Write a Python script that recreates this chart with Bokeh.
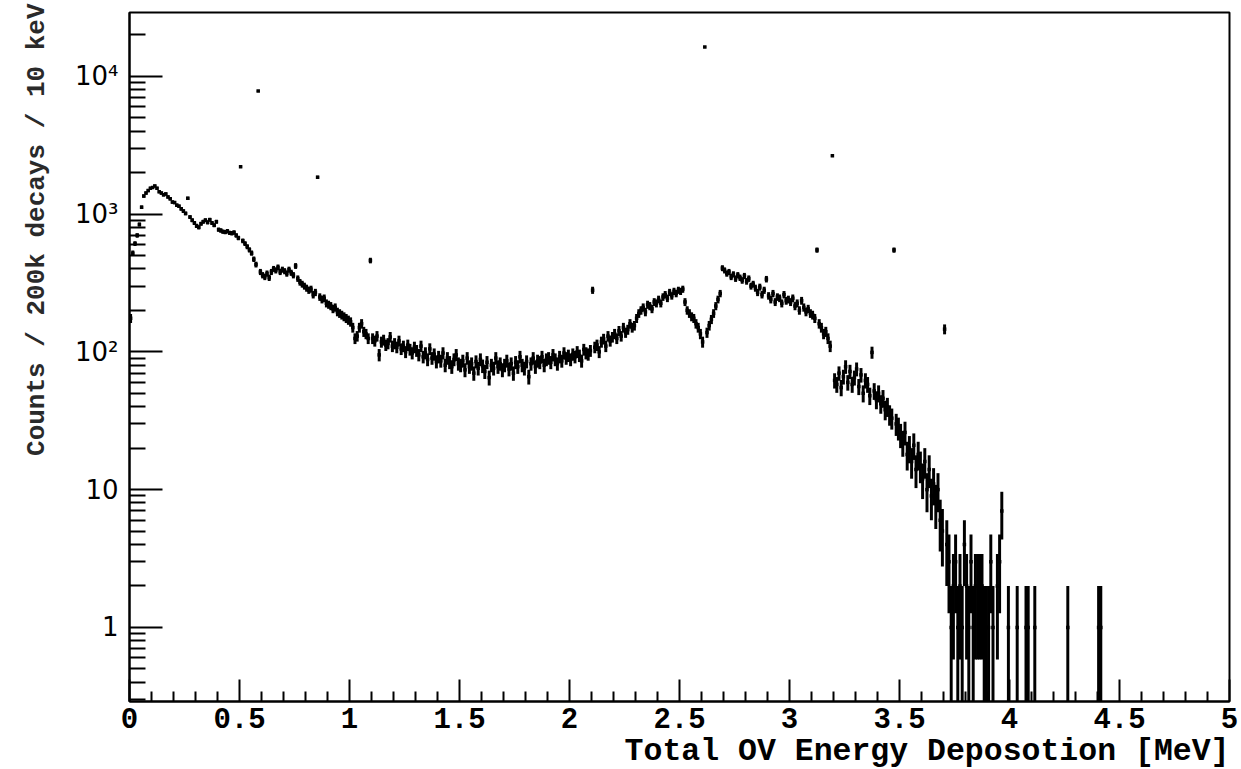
import math
from bokeh.plotting import figure
from bokeh.models import FixedTicker, Title, ColumnDataSource
from bokeh.embed import file_html
from bokeh.resources import INLINE

# ---- data: counts per 10 keV bin, 0 - 5 MeV (500 bins) ----
bin_width = 0.01
counts = [
    175, 520, 610, 700, 840, 1120, 1350, 1420, 1480, 1540,
    1560, 1600, 1540, 1450, 1420, 1380, 1400, 1330, 1290, 1220,
    1210, 1160, 1140, 1090, 1050, 1010, 1300, 950, 900, 860,
    820, 800, 850, 880, 900, 870, 910, 860, 830, 880,
    770, 760, 745, 740, 750, 730, 725, 735, 700, 670,
    2200, 640, 610, 580, 550, 520, 470, 430, 7800, 380,
    360, 350, 370, 345, 380, 400, 390, 410, 380, 395,
    385, 370, 395, 375, 360, 420, 340, 320, 310, 300,
    290, 280, 285, 260, 270, 1850, 250, 240, 245, 225,
    220, 215, 205, 210, 195, 190, 185, 180, 175, 170,
    165, 150, 125, 130, 150, 160, 140, 135, 125, 460,
    125, 120, 130, 95, 118, 122, 112, 115, 128, 110,
    115, 108, 120, 105, 110, 100, 112, 104, 98, 108,
    102, 95, 110, 92, 98, 88, 105, 90, 96, 85,
    92, 86, 98, 80, 90, 84, 78, 88, 95, 82,
    80, 86, 74, 90, 78, 82, 70, 85, 76, 88,
    79, 72, 84, 65, 80, 76, 90, 78, 82, 74,
    80, 86, 75, 82, 70, 84, 78, 92, 80, 76,
    85, 66, 82, 90, 78, 86, 84, 92, 80, 88,
    90, 84, 95, 88, 82, 92, 86, 98, 90, 94,
    88, 96, 92, 100, 94, 86, 104, 98, 96, 102,
    280, 108, 112, 100, 118, 124, 110, 130, 120, 128,
    135, 125, 142, 130, 150, 138, 145, 160, 150, 155,
    175, 190, 200, 210, 195, 220, 215, 205, 230, 225,
    240, 225, 250, 260, 245, 270, 255, 275, 265, 280,
    275, 285, 230, 200, 190, 180, 175, 160, 150, 135,
    118, 16300, 138, 155, 172, 190, 215, 240, 265, 405,
    390, 370, 380, 350, 365, 340, 360, 345, 330, 355,
    325, 340, 300, 310, 290, 270, 295, 260, 280, 337,
    255, 240, 265, 230, 250, 245, 225, 260, 235, 240,
    230, 245, 215, 225, 200, 235, 210, 195, 205, 190,
    185, 175, 547, 160, 150, 135, 140, 125, 110, 2650,
    62, 58, 70, 55, 66, 78, 60, 72, 58, 65,
    75, 56, 68, 50, 62, 58, 48, 99, 52, 45,
    50, 42, 46, 38, 40, 35, 33, 547, 30, 28,
    25, 22, 26, 18, 20, 16, 21, 14, 18, 15,
    12, 16, 10, 14, 9, 11, 8, 10, 6, 5,
    146, 4, 3, 1, 2, 3, 1, 2, 1, 4,
    2, 1, 3, 1, 2, 2, 2, 2, 1, 1,
    1, 3, 1, 0, 2, 3, 7, 0, 0, 1,
    0, 0, 0, 1, 0, 0, 0, 1, 1, 0,
    0, 1, 0, 0, 0, 0, 0, 0, 0, 0,
    0, 0, 0, 0, 0, 0, 1, 0, 0, 0,
    0, 0, 0, 0, 0, 0, 0, 0, 0, 0,
    1, 1, 0, 0, 0, 0, 0, 0, 0, 0,
    0, 0, 0, 0, 0, 0, 0, 0, 0, 0,
    0, 0, 0, 0, 0, 0, 0, 0, 0, 0,
    0, 0, 0, 0, 0, 0, 0, 0, 0, 0,
    0, 0, 0, 0, 0, 0, 0, 0, 0, 0,
    0, 0, 0, 0, 0, 0, 0, 0, 0, 0,
]

x_ticks = [0, 0.5, 1, 1.5, 2, 2.5, 3, 3.5, 4, 4.5, 5]
x_tick_labels = ["0", "0.5", "1", "1.5", "2", "2.5", "3", "3.5", "4", "4.5", "5"]
y_ticks = [1, 10, 100, 1000, 10000]
y_tick_labels = ["1", "10", "10\u00b2", "10\u00b3", "10\u2074"]

x_title = "Total OV Energy Deposotion [MeV]"
y_title = "Counts / 200k decays / 10 keV"

# ---- build sources (Poisson errors sqrt(N)) ----
xs, ys, lo, hi = [], [], [], []
for i, c in enumerate(counts):
    if c <= 0:
        continue
    xs.append(bin_width * (i + 0.5))
    ys.append(c)
    e = math.sqrt(c)
    lo.append(max(c - e, 0.01))
    hi.append(c + e)
src = ColumnDataSource(dict(x=xs, y=ys, lo=lo, hi=hi))

p = figure(width=1241, height=769, x_range=(0, 5), y_range=(0.29, 29000),
           y_axis_type="log", output_backend="svg", toolbar_location=None,
           min_border_left=127, min_border_right=12, min_border_top=12,
           min_border_bottom=68)
p.background_fill_color = "white"
p.border_fill_color = "white"
p.xgrid.visible = False
p.ygrid.visible = False
p.outline_line_color = "black"
p.outline_line_width = 2

p.vbar(x="x", width=bin_width * 1.35, bottom="lo", top="hi", source=src,
       fill_color="black", line_color=None)
p.scatter(x="x", y="y", source=src, marker="square", size=3.5,
          fill_color="black", line_color=None)

# x axis
xminor = [round(0.1 * k, 1) for k in range(0, 51) if k % 5 != 0]
p.xaxis.ticker = FixedTicker(ticks=x_ticks, minor_ticks=xminor)
p.xaxis.major_label_overrides = {t: l for t, l in zip(x_ticks, x_tick_labels)}
p.xaxis.major_tick_in = 22
p.xaxis.major_tick_out = 0
p.xaxis.minor_tick_in = 10
p.xaxis.minor_tick_out = 0
p.xaxis.major_tick_line_width = 2
p.xaxis.minor_tick_line_width = 2
p.xaxis.axis_line_width = 2
p.xaxis.major_label_standoff = 6
p.xaxis.major_label_text_font = "Liberation Mono"
p.xaxis.major_label_text_font_style = "bold"
p.xaxis.major_label_text_font_size = "29px"
p.xaxis.major_label_text_color = "black"
p.xaxis.major_label_text_line_height = 0.65

# y axis
yminor = []
for d in [0.1, 1, 10, 100, 1000, 10000]:
    for m in range(2, 10):
        yminor.append(d * m)
p.yaxis.ticker = FixedTicker(ticks=y_ticks, minor_ticks=yminor)
p.yaxis.major_label_overrides = {t: l for t, l in zip(y_ticks, y_tick_labels)}
p.yaxis.major_tick_in = 33
p.yaxis.major_tick_out = 0
p.yaxis.minor_tick_in = 16
p.yaxis.minor_tick_out = 0
p.yaxis.major_tick_line_width = 2
p.yaxis.minor_tick_line_width = 2
p.yaxis.axis_line_width = 2
p.yaxis.major_label_standoff = 11
p.yaxis.major_label_text_font = "DejaVu Sans"
p.yaxis.major_label_text_font_size = "26px"
p.yaxis.major_label_text_color = "black"

# axis titles (ROOT style: right / top aligned)
p.add_layout(Title(text=x_title, align="right", standoff=2,
                   text_font="Liberation Mono", text_font_style="bold",
                   text_font_size="31.5px", text_color="black",
                   text_line_height=0.6), "below")
p.add_layout(Title(text=y_title, align="right", standoff=39, offset=-9,
                   text_font="Liberation Mono", text_font_style="bold",
                   text_font_size="26px", text_color="#2a2a2a"), "left")

open("out.html", "w").write(file_html(p, INLINE))
